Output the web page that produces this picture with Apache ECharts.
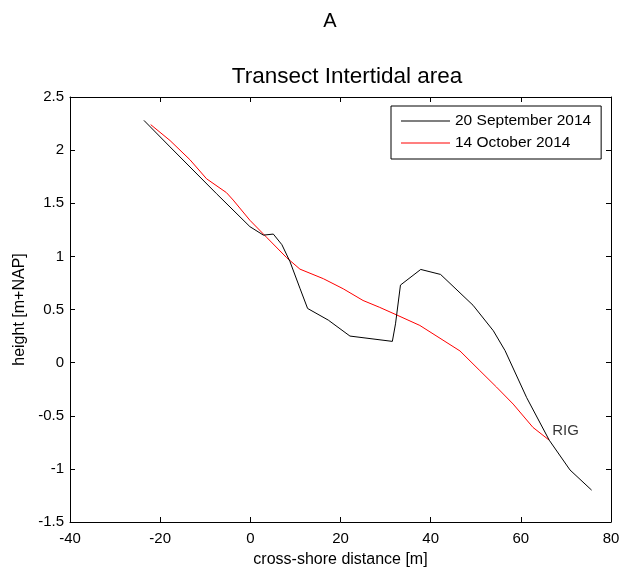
<!DOCTYPE html>
<html><head><meta charset="utf-8">
<script src="https://cdn.jsdelivr.net/npm/echarts@6/dist/echarts.min.js"></script>
<style>html,body{margin:0;padding:0;background:#fff}#c{width:620px;height:569px}</style>
</head><body><div id="c"></div>
<script>
const sepX = [-23.6,-17.8,-7.5,-0.1,2.9,5.1,7.0,8.8,11.0,12.7,17.3,22.1,31.5,32.2,33.3,37.8,42.2,49.4,53.9,56.5,61.3,66.3,70.9,75.7];
const sepY = [2.28,2.03,1.59,1.28,1.20,1.21,1.11,0.95,0.70,0.51,0.40,0.25,0.20,0.365,0.73,0.877,0.83,0.54,0.30,0.113,-0.33,-0.73,-1.01,-1.20];
const octX = [-22.1,-17.8,-13.4,-9.7,-5.3,-3.8,-0.1,3.6,8.0,11.0,16.2,20.6,25.0,28.7,32.4,37.6,46.5,50.9,54.6,58.3,62.7,66.3];
const octY = [2.24,2.09,1.91,1.73,1.60,1.53,1.34,1.18,0.99,0.88,0.79,0.695,0.585,0.52,0.45,0.35,0.11,-0.075,-0.23,-0.39,-0.61,-0.73];
const rigPoint = [66.3, -0.73];
const rigLabel = 'RIG';
const seriesNames = ['20 September 2014', '14 October 2014'];

const FONT = 'Liberation Sans, Arial, sans-serif';
const zip = (a,b) => a.map((v,i)=>[v,b[i]]);
const chart = echarts.init(document.getElementById('c'));
const axLine = {show:true, onZero:false, lineStyle:{color:'#000', width:1}};
const tick = {show:true, inside:true, length:5, lineStyle:{color:'#000'}};
chart.setOption({
  animation:false,
  backgroundColor:'#fff',
  title:[
    {text:'A', left:325, textAlign:'center', top:6, textStyle:{fontFamily:FONT, fontSize:20, fontWeight:'normal', color:'#000'}},
    {text:'Transect Intertidal area', left:342, textAlign:'center', top:60, textStyle:{fontFamily:FONT, fontSize:22.5, fontWeight:'normal', color:'#000'}}
  ],
  grid:{left:70, right:9, top:97, bottom:47, show:false, containLabel:false, outerBoundsMode:'none'},
  legend:{
    orient:'vertical', left:391, top:106,
    data:seriesNames, icon:'rect', itemWidth:49, itemHeight:1, itemGap:6,
    padding:[7,10,8,10], borderColor:'#000', borderWidth:1, backgroundColor:'#fff',
    textStyle:{fontFamily:FONT, fontSize:15.5, color:'#000', lineHeight:16}
  },
  xAxis:[
    {type:'value', min:-40, max:80, interval:20, position:'bottom',
     name:'cross-shore distance [m]', nameLocation:'middle', nameGap:30,
     nameTextStyle:{fontFamily:FONT, fontSize:16, color:'#000'},
     axisLine:axLine, axisTick:tick, splitLine:{show:false},
     axisLabel:{fontFamily:FONT, fontSize:15, color:'#000', margin:9}},
    {type:'value', min:-40, max:80, interval:20, position:'top',
     axisLine:axLine, axisTick:tick, splitLine:{show:false}, axisLabel:{show:false}}
  ],
  yAxis:[
    {type:'value', min:-1.5, max:2.5, interval:0.5, position:'left',
     name:'height [m+NAP]', nameLocation:'middle', nameGap:42, nameRotate:90,
     nameTextStyle:{fontFamily:FONT, fontSize:16, color:'#000'},
     axisLine:axLine, axisTick:tick, splitLine:{show:false},
     axisLabel:{fontFamily:FONT, fontSize:15, color:'#000', margin:6,
       formatter:v=>String(v)}},
    {type:'value', min:-1.5, max:2.5, interval:0.5, position:'right',
     axisLine:axLine, axisTick:tick, splitLine:{show:false}, axisLabel:{show:false}}
  ],
  series:[
    {name:seriesNames[0], type:'line', data:zip(sepX,sepY), symbol:'none',
     lineStyle:{color:'#000', width:1}, itemStyle:{color:'#000'}, z:3},
    {name:seriesNames[1], type:'line', data:zip(octX,octY), symbol:'none',
     lineStyle:{color:'#ff0000', width:1}, itemStyle:{color:'#ff0000'}, z:2},
    {name:'rig', type:'scatter', data:[rigPoint], symbolSize:0, silent:true,
     label:{show:true, formatter:rigLabel, position:'right', offset:[-2,-9],
       fontFamily:FONT, fontSize:15, color:'#000'}}
  ]
});
</script></body></html>
